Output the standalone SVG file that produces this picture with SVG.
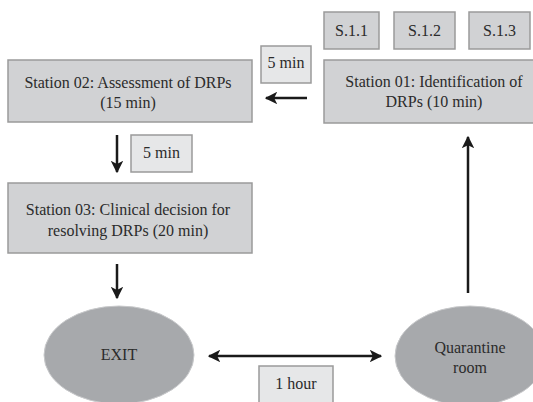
<svg xmlns="http://www.w3.org/2000/svg" width="533" height="402" viewBox="0 0 533 402">
<defs>
<style>
text{font-family:'Liberation Serif','DejaVu Serif','Times New Roman',serif;font-size:16px;fill:#2b2b2b;text-anchor:middle}
.st{fill:#d1d2d4;stroke:#9a9a9a;stroke-width:1.5}
.lb{fill:#e6e7e8;stroke:#9a9a9a;stroke-width:1.5}
.el{fill:#a7a9ac;stroke:#c8c9cb;stroke-width:1}
.ar{stroke:#1a1a1a;stroke-width:2.5;fill:none}
</style>
<marker id="ah" viewBox="0 0 10 10" refX="9" refY="5" markerWidth="5" markerHeight="5" orient="auto-start-reverse" markerUnits="strokeWidth">
<path d="M0,0 L10,5 L0,10 L2.5,5 z" fill="#1a1a1a"/>
</marker>
</defs>
<rect width="533" height="402" fill="#ffffff"/>
<g id="connectors">
<line class="ar" x1="307" y1="98" x2="266" y2="98" marker-end="url(#ah)"/>
<line class="ar" x1="117" y1="135" x2="117" y2="172" marker-end="url(#ah)"/>
<line class="ar" x1="117" y1="264" x2="117" y2="298" marker-end="url(#ah)"/>
<line class="ar" x1="468" y1="293" x2="468" y2="137" marker-end="url(#ah)"/>
<line class="ar" x1="209" y1="356" x2="381" y2="356" marker-start="url(#ah)" marker-end="url(#ah)"/>
</g>
<g font-family="Liberation Serif, serif">
<g id="s11"><rect class="st" x="324" y="12" width="55" height="37"/><text x="351.5" y="36">S.1.1</text></g>
<g id="s12"><rect class="st" x="394" y="12" width="61" height="37"/><text x="424.5" y="36">S.1.2</text></g>
<g id="s13"><rect class="st" x="469" y="12" width="61" height="37"/><text x="499.5" y="36">S.1.3</text></g>
<g id="station01"><rect class="st" x="324" y="60" width="212" height="63"/><text x="434" y="87">Station 01: Identification of</text><text x="434" y="107">DRPs (10 min)</text></g>
<g id="station02"><rect class="st" x="8" y="60" width="244" height="62"/><text x="128" y="88">Station 02: Assessment of DRPs</text><text x="128" y="108">(15 min)</text></g>
<g id="label5a"><rect class="lb" x="261" y="46" width="50" height="37"/><text x="286" y="68">5 min</text></g>
<g id="label5b"><rect class="lb" x="131" y="135" width="61" height="37"/><text x="161.5" y="158">5 min</text></g>
<g id="station03"><rect class="st" x="8" y="183" width="244" height="70"/><text x="128" y="215">Station 03: Clinical decision for</text><text x="128" y="236">resolving DRPs (20 min)</text></g>
<g id="exit"><ellipse class="el" cx="119" cy="355" rx="75" ry="49"/><text x="119" y="360">EXIT</text></g>
<g id="quarantine"><ellipse class="el" cx="470" cy="356" rx="75" ry="50"/><text x="470" y="353">Quarantine</text><text x="470" y="373">room</text></g>
<g id="label1h"><rect class="lb" x="259" y="366" width="74" height="40"/><text x="296" y="389">1 hour</text></g>
</g>
</svg>
